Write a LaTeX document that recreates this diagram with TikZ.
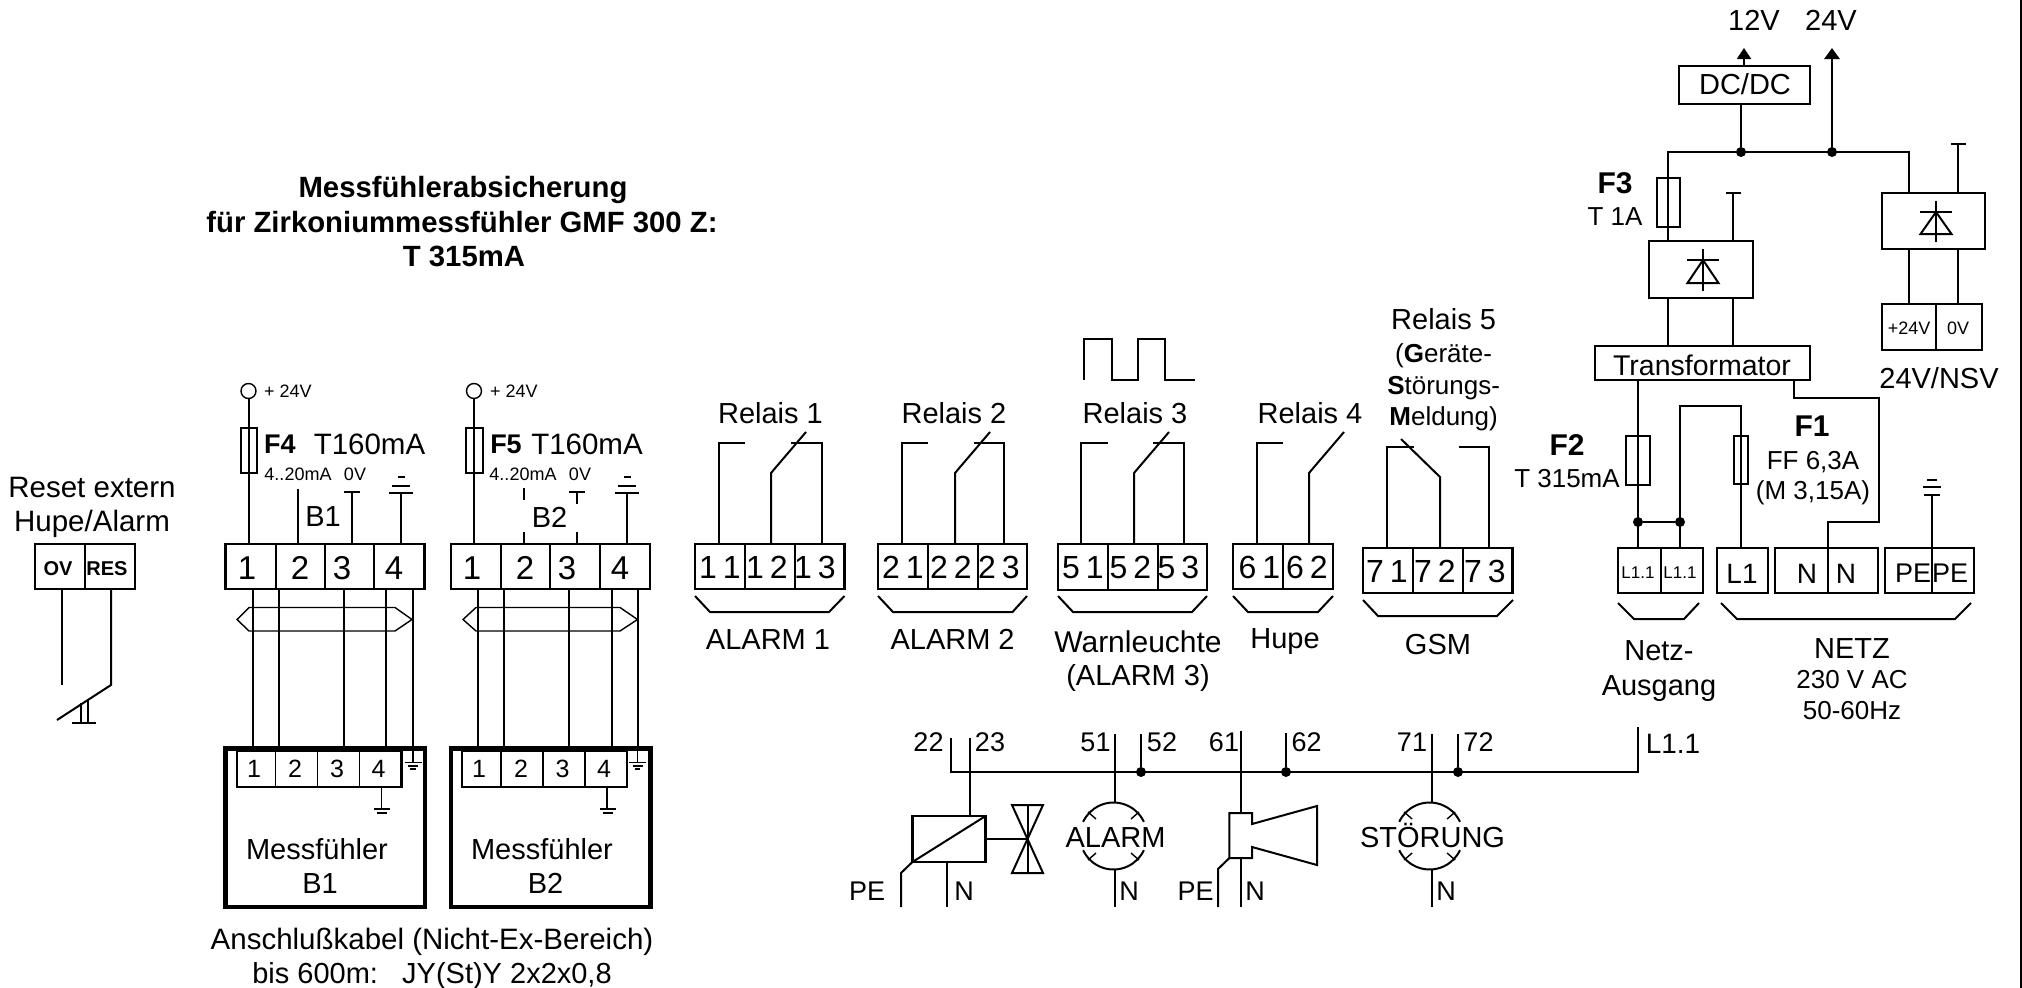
\documentclass[tikz,border=0pt]{standalone}
\usepackage{fontspec}
\setmainfont{Liberation Sans}
\usetikzlibrary{arrows.meta}
\newcommand\fs[1]{\fontsize{#1}{#1}\selectfont}
\newcount\lblc
\newcommand\T[4]{\global\advance\lblc by 1 \node[lab,font=\fs{#3},text height={0.72*#3},text depth=0pt] (lbl\the\lblc) at (#1,#2) {#4};}
\newcommand\Bx[6]{\node[#6,minimum width={#4-#2},minimum height={#5-#3}] (#1) at ({(#2+#4)/2},{(#3+#5)/2}) {};}
\newcommand\Dv[2]{\draw[divider] (#2,0 |- #1.north) -- (#2,0 |- #1.south);}
\newcommand\dd[2]{#1\kern6pt #2}
\newcommand\Gnd[4]{\draw[wire] (#1-#3,#2) -- (#1+#3,#2); \draw[wire] (#1-#3*.75,#2-7) -- (#1+#3*.75,#2-7); \draw[wire] (#1-#4,#2-16) -- (#1+#4,#2-16);}
\newcommand\SmallGnd[2]{\draw[thinw] (#1-8.5,#2) -- (#1+8.5,#2); \draw[thinw] (#1-5,#2+3.5) -- (#1+5,#2+3.5); \draw[thinw] (#1-2.7,#2+6.5) -- (#1+2.7,#2+6.5);}
\newcommand\Lamp[1]{%
 \draw[wire] (#1+30.36,821.84) arc[start angle=-25,end angle=-155,radius=33.5];
 \draw[wire] (#1-30.36,850.16) arc[start angle=155,end angle=25,radius=33.5];
 \draw[thinw] (#1-25.5,812) -- (#1-17.5,819); \draw[thinw] (#1+25.5,812) -- (#1+17.5,819);
 \draw[thinw] (#1-25.5,860) -- (#1-17.5,853); \draw[thinw] (#1+25.5,860) -- (#1+17.5,853);}
\newcommand\Diode[5]{% x bar top base bottom
 \draw[wire] (#1,#3) -- (#1,#5);
 \draw[wire] (#1-16,#2) -- (#1+16,#2);
 \draw[wire] (#1,#2) -- (#1-15.5,#4) -- (#1+15.5,#4) -- cycle;}
\tikzset{
  lab/.style={inner sep=0pt,outer sep=0pt,anchor=center,align=center},
  wire/.style={line width=2pt},
  thinw/.style={line width=1.4pt},
  divider/.style={line width=1.2pt},
  heavy/.style={line width=2.8pt},
  blockbox/.style={draw,line width=2.6pt,inner sep=0pt,outer sep=0pt},
  plainbox/.style={draw,line width=2.2pt,inner sep=0pt,outer sep=0pt},
  sensorbox/.style={draw,line width=4.5pt,inner sep=0pt,outer sep=0pt},
  fusebox/.style={draw,line width=1.6pt,inner sep=0pt,outer sep=0pt},
  boldfuse/.style={draw,line width=2.6pt,inner sep=0pt,outer sep=0pt},
  dotj/.style={circle,fill=black,inner sep=0pt,minimum size=10pt,outer sep=0pt},
  power/.style={circle,draw,line width=1.4pt,inner sep=0pt,minimum size=15pt,outer sep=0pt},
}
\begin{document}
\begin{tikzpicture}[x=1pt,y=-1pt]
\useasboundingbox (0,0) rectangle (2022,988);
\draw[line width=2pt] (2021,0) -- (2021,988);

% ---------- title
\T{463}{187}{29.3}{\textbf{Messfühlerabsicherung}}
\T{462}{222}{29.3}{\textbf{für Zirkoniummessfühler GMF 300 Z:}}
\T{464}{256}{29.3}{\textbf{T 315mA}}

% ---------- reset
\T{92}{487}{29.5}{Reset extern}
\T{92}{521}{29.5}{Hupe/Alarm}
\Bx{rs}{35}{544}{135}{589}{blockbox}
\Dv{rs}{85}
\T{58}{568}{20}{\textbf{OV}}
\T{107}{568}{20}{\textbf{RES}}
\draw[wire] (62,0 |- rs.south) -- (62,685);
\draw[wire] (111,0 |- rs.south) -- (111,685) -- (57,720);
\draw[thinw] (81,703) -- (81,722);
\draw[thinw] (88,699) -- (88,722);
\draw[wire] (72,723) -- (96,723);

% ---------- sensor 1
\Bx{tb1}{225.5}{544}{424.5}{589}{blockbox}
\Dv{tb1}{276}\Dv{tb1}{325}\Dv{tb1}{374}
\T{247}{568}{33}{1}\T{300}{568}{33}{2}\T{342}{568}{33}{3}\T{394}{568}{33}{4}
\node[power] (p1) at (248.5,391) {};
\T{288}{391}{18}{+ 24V}
\Bx{f4}{241}{428}{257}{473}{boldfuse}
\draw[wire] (p1.south) -- (248.5,0 |- tb1.north);
\T{280}{444}{27}{\textbf{F4}}
\T{369.5}{444}{29.5}{T160mA}
\T{298}{474}{18}{4..20mA}
\T{355}{474}{18}{0V}
\T{323}{516}{29}{B1}
\draw[wire] (298,489) -- (298,0 |- tb1.north);
\draw[wire] (352,492) -- (352,0 |- tb1.north);
\draw[wire] (344,492) -- (360,492);
\draw[wire] (401,493) -- (401,0 |- tb1.north);
\Gnd{401}{493}{11.7}{3.5}
\Bx{mb1}{225.5}{748.5}{425}{907}{sensorbox}
\Bx{ib1}{237}{750.5}{401.5}{787}{plainbox}
\Dv{ib1}{275.5}\Dv{ib1}{317.5}\Dv{ib1}{359.5}
\T{254}{768.5}{25}{1}\T{295}{768.5}{25}{2}\T{337}{768.5}{25}{3}\T{378.5}{768.5}{25}{4}
\foreach \xw in {253,279,344,386,413}{\draw[wire] (\xw,0 |- tb1.south) -- (\xw,0 |- mb1.north);}
\draw[thinw] (237,619.5) -- (249,607.5) -- (395,607.5) -- (412,619.5) -- (395,631) -- (249,631) -- cycle;
\draw[thinw] (413,748.5) -- (413,762.5);
\SmallGnd{413}{762.5}
\draw[thinw] (381.5,0 |- ib1.south) -- (381.5,809);
\draw[thinw] (374,809) -- (390,809);\draw[thinw] (377,813) -- (387,813);
\T{317}{849}{29}{Messfühler}
\T{320}{883}{29}{B1}

% ---------- sensor 2
\Bx{tb2}{451}{544}{650}{589}{blockbox}
\Dv{tb2}{501}\Dv{tb2}{550}\Dv{tb2}{600}
\T{472}{568}{33}{1}\T{525}{568}{33}{2}\T{567}{568}{33}{3}\T{620}{568}{33}{4}
\node[power] (p2) at (474,391) {};
\T{514}{391}{18}{+ 24V}
\Bx{f5}{466}{428}{483}{473}{boldfuse}
\draw[wire] (p2.south) -- (474,0 |- tb2.north);
\T{506}{444}{27}{\textbf{F5}}
\T{587}{444}{29.5}{T160mA}
\T{523}{474}{18}{4..20mA}
\T{580}{474}{18}{0V}
\T{549.5}{517}{29}{B2}
\draw[thinw] (524,488) -- (524,500);
\draw[thinw] (524,532) -- (524,0 |- tb2.north);
\draw[wire] (577,492) -- (577,504);
\draw[thinw] (577,532) -- (577,0 |- tb2.north);
\draw[wire] (569,492) -- (585,492);
\draw[wire] (627,493) -- (627,0 |- tb2.north);
\Gnd{627}{493}{11.7}{3.5}
\Bx{mb2}{451}{748.5}{650.5}{907}{sensorbox}
\Bx{ib2}{462}{750.5}{627}{787}{plainbox}
\Dv{ib2}{501}\Dv{ib2}{543}\Dv{ib2}{585}
\T{479}{768.5}{25}{1}\T{521}{768.5}{25}{2}\T{562.5}{768.5}{25}{3}\T{604}{768.5}{25}{4}
\foreach \xw in {478,504,569,611.5,637.5}{\draw[wire] (\xw,0 |- tb2.south) -- (\xw,0 |- mb2.north);}
\draw[thinw] (463,619.5) -- (476,607.5) -- (620,607.5) -- (637.5,619.5) -- (620,631) -- (476,631) -- cycle;
\draw[thinw] (637.5,748.5) -- (637.5,762.5);
\SmallGnd{637.5}{762.5}
\draw[thinw] (607,0 |- ib2.south) -- (607,809);
\draw[thinw] (599.5,809) -- (615.5,809);\draw[thinw] (602.5,813) -- (612.5,813);
\T{542}{849}{29}{Messfühler}
\T{545.5}{883}{29}{B2}
\T{432}{939}{29.5}{Anschlußkabel (Nicht-Ex-Bereich)}
\T{432}{973}{29}{bis 600m:\ \ \ JY(St)Y 2x2x0,8}

% ---------- relay 1
\T{770.5}{413}{29}{Relais 1}
\Bx{r1}{695}{544}{844.5}{589}{blockbox}
\Dv{r1}{745}\Dv{r1}{795}
\T{720}{567}{32}{\dd11}\T{767}{567}{32}{\dd12}\T{815}{567}{32}{\dd13}
\draw[wire] (718.5,0 |- r1.north) |- (745,443);
\draw[wire] (771,0 |- r1.north) -- (771,473) -- (806,432);
\draw[wire] (821.5,0 |- r1.north) |- (791,443);
\draw[wire] (695,596) -- (710,612) -- (829,612) -- (844.5,596);
\T{768}{639}{29}{ALARM 1}

% ---------- relay 2
\T{954}{413}{29}{Relais 2}
\Bx{r2}{878}{544}{1027}{589}{blockbox}
\Dv{r2}{928}\Dv{r2}{978}
\T{903}{567}{32}{\dd21}\T{951}{567}{32}{\dd22}\T{999}{567}{32}{\dd23}
\draw[wire] (901.6,0 |- r2.north) |- (928,443);
\draw[wire] (955,0 |- r2.north) -- (955,473) -- (990,432);
\draw[wire] (1004,0 |- r2.north) |- (973.5,443);
\draw[wire] (878,596) -- (893,612) -- (1012.5,612) -- (1027,596);
\T{952.6}{639}{29}{ALARM 2}

% ---------- relay 3
\draw[wire] (1084,380) -- (1084,339) -- (1112,339) -- (1112,380) -- (1138,380) -- (1138,339) -- (1165,339) -- (1165,380) -- (1194.5,380);
\T{1135}{413}{29}{Relais 3}
\Bx{r3}{1058}{544}{1207}{590}{blockbox}
\Dv{r3}{1108}\Dv{r3}{1158}
\T{1083}{567}{32}{\dd51}\T{1130.5}{567}{32}{\dd52}\T{1178.5}{567}{32}{\dd53}
\draw[wire] (1080.5,0 |- r3.north) |- (1108,443);
\draw[wire] (1134,0 |- r3.north) -- (1134,473) -- (1169,432);
\draw[wire] (1183.5,0 |- r3.north) |- (1153,443);
\draw[wire] (1058,596) -- (1073,612) -- (1192,612) -- (1207,596);
\T{1138}{642}{30}{Warnleuchte}
\T{1138}{675}{29}{(ALARM 3)}

% ---------- relay 4
\T{1310}{413}{29}{Relais 4}
\Bx{r4}{1233}{544}{1333}{589}{blockbox}
\Dv{r4}{1283}
\T{1259.5}{567}{32}{\dd61}\T{1307}{567}{32}{\dd62}
\draw[wire] (1256.5,0 |- r4.north) |- (1283,443);
\draw[wire] (1309,0 |- r4.north) -- (1309,473) -- (1344,432);
\draw[wire] (1233,596) -- (1248,612) -- (1318,612) -- (1333,596);
\T{1285}{638}{29}{Hupe}

% ---------- relay 5
\T{1443.6}{319}{29}{Relais 5}
\T{1443.6}{353}{26}{(\textbf{G}eräte-}
\T{1443.6}{385}{26}{\textbf{S}törungs-}
\T{1443.6}{416}{26}{\textbf{M}eldung)}
\Bx{r5}{1363}{548}{1512.7}{593}{blockbox}
\Dv{r5}{1413}\Dv{r5}{1463}
\T{1387}{571}{32}{\dd71}\T{1435}{571}{32}{\dd72}\T{1485}{571}{32}{\dd73}
\draw[wire] (1386.5,0 |- r5.north) |- (1413.5,447);
\draw[wire] (1440,0 |- r5.north) -- (1440,477) -- (1401,439);
\draw[wire] (1489,0 |- r5.north) |- (1459,447);
\draw[wire] (1363,600) -- (1378,616) -- (1497,616) -- (1513,600);
\T{1438}{644}{29}{GSM}

% ---------- power part top
\T{1754}{20}{29}{12V}
\T{1831}{20}{29}{24V}
\Bx{dc}{1679}{66}{1810}{104}{plainbox}
\T{1745}{84}{29}{DC/DC}
\draw[wire,-{Triangle[length=11pt,width=14pt]}] (1744,0 |- dc.north) -- (1744,48);
\coordinate (busL) at (1668,152);
\node[dotj] (j1) at (1741,152) {};
\node[dotj] (j2) at (1832,152) {};
\draw[wire] (1741,0 |- dc.south) -- (j1);
\draw[heavy,-{Triangle[length=11pt,width=15pt]}] (j2) -- (1832,48);
\Bx{rc1}{1649}{241}{1753}{298}{plainbox}
\Bx{rc2}{1882}{193}{1985}{249}{plainbox}
\draw[wire] (1668,0 |- rc1.north) -- (busL) -- (1909,152) -- (1909,0 |- rc2.north);
\Bx{f3}{1657}{178}{1680}{227}{fusebox}
\T{1615}{183}{30}{\textbf{F3}}
\T{1615}{216}{26}{T 1A}
\Diode{1703}{260}{249}{283}{291}
\Diode{1936}{212}{201}{234}{242}
\draw[wire] (1733,0 |- rc1.north) -- (1733,193);
\draw[wire] (1726,193) -- (1741,193);
\draw[wire] (1958,0 |- rc2.north) -- (1958,144);
\draw[wire] (1951,144) -- (1966,144);
\Bx{tr}{1595}{346}{1810}{380}{plainbox}
\T{1702}{365}{28.5}{Transformator}
\draw[wire] (1668,0 |- rc1.south) -- (1668,0 |- tr.north);
\draw[wire] (1733,0 |- rc1.south) -- (1733,0 |- tr.north);
\Bx{nsv}{1882}{304}{1982}{350}{blockbox}
\Dv{nsv}{1936}
\T{1909}{328}{18}{+24V}
\T{1958}{328}{18}{0V}
\draw[wire] (1909,0 |- rc2.south) -- (1909,0 |- nsv.north);
\draw[wire] (1958,0 |- rc2.south) -- (1958,0 |- nsv.north);
\T{1939}{378}{29}{24V/NSV}

% ---------- mains
\Bx{la}{1618}{548}{1703}{593}{blockbox}
\Dv{la}{1661}
\T{1638}{572}{17}{L1.1}
\T{1680}{572}{17}{L1.1}
\Bx{lb}{1717}{548}{1768}{593}{blockbox}
\T{1742}{573}{28}{L1}
\Bx{lc}{1775}{548}{1878}{593}{blockbox}
\Dv{lc}{1828}
\T{1807}{573}{28}{N}
\T{1846}{573}{28}{N}
\Bx{ld}{1885}{548}{1974}{593}{blockbox}
\Dv{ld}{1932}
\T{1913}{573}{27}{PE}
\T{1950}{573}{27}{PE}
\Bx{f2}{1626}{436}{1650}{485}{fusebox}
\Bx{f1}{1734}{436}{1748}{484}{fusebox}
\node[dotj] (j3) at (1638,522) {};
\node[dotj] (j4) at (1680,522) {};
\draw[wire] (1638,0 |- tr.south) -- (1638,0 |- la.north);
\draw[wire] (j3) -- (j4);
\draw[wire] (1680,0 |- la.north) -- (1680,406) -- (1741,406) -- (1741,0 |- lb.north);
\draw[wire] (1794,0 |- tr.south) -- (1794,398) -- (1879,398) -- (1879,522) -- (1828,522) -- (1828,0 |- lc.north);
\T{1567}{445}{30}{\textbf{F2}}
\T{1567}{478}{26}{T 315mA}
\T{1812}{426}{30}{\textbf{F1}}
\T{1813}{460}{26}{FF 6,3A}
\T{1813}{490}{26}{(M 3,15A)}
\draw[wire] (1932,0 |- ld.north) -- (1932,496);
\draw[wire] (1924,495) -- (1940,495);
\draw[wire] (1923,487) -- (1941,487);
\draw[wire] (1927,480) -- (1937,480);
\draw[wire] (1618,603) -- (1634,619) -- (1684,619) -- (1699,603);
\draw[wire] (1721,603) -- (1737,619) -- (1955,619) -- (1971,603);
\T{1659}{650}{29}{Netz-}
\T{1659}{685}{29}{Ausgang}
\T{1852}{648}{29}{NETZ}
\T{1852}{679}{26}{230 V AC}
\T{1852}{710}{26}{50-60Hz}

% ---------- load bus
\coordinate (busA) at (951,772);
\node[dotj] (d52) at (1141,772) {};
\node[dotj] (d62) at (1286,772) {};
\node[dotj] (d72) at (1458,772) {};
\draw[wire] (951,738) -- (busA) -- (1638,772) -- (1638,727);
\T{1673}{743}{28}{L1.1}
\T{928.5}{742}{27}{22}\T{990}{742}{27}{23}
\T{1095.5}{742}{27}{51}\T{1162}{742}{27}{52}
\T{1224}{742}{27}{61}\T{1306.6}{742}{27}{62}
\T{1412}{742}{27}{71}\T{1478.5}{742}{27}{72}
\draw[wire] (d52) -- (1141,734);
\draw[wire] (d62) -- (1286,733);
\draw[wire] (d72) -- (1458,734);

% solenoid valve
\Bx{sol}{912.4}{816}{985.6}{862}{blockbox}
\draw[wire] (970,738) -- (970,0 |- sol.north);
\draw[wire] (sol.south west) -- (sol.north east);
\draw[wire] (sol.south west) -- (901,873) -- (901,907);
\draw[wire] (947,0 |- sol.south) -- (947,907);
\T{867}{891}{27}{PE}
\T{964}{891}{27}{N}
\draw[heavy] (sol.east) -- (1027.6,839);
\draw[wire] (1012,805) -- (1043,805) -- (1012,873) -- (1043,873) -- cycle;
\draw[wire] (1027.6,805) -- (1027.6,873);

% lamp alarm
\draw[wire] (1115,734) -- (1115,802);
\Lamp{1113.5}
\T{1115.5}{837}{29}{ALARM}
\draw[wire] (1115,869) -- (1115,907);
\T{1129}{891}{27}{N}

% horn
\draw[wire] (1240.5,731) -- (1240.5,813);
\draw[wire] (1252,824) -- (1252,813) -- (1229.4,813) -- (1229.4,858) -- (1252,858) -- (1252,847) -- (1317,865) -- (1317,806) -- cycle;
\draw[wire] (1240.5,858) -- (1240.5,907);
\draw[wire] (1229.4,858) -- (1218,869) -- (1218,907);
\T{1195.5}{891}{27}{PE}
\T{1255}{891}{27}{N}

% lamp stoerung
\draw[wire] (1431.6,734) -- (1431.6,802);
\Lamp{1429.6}
\T{1432.5}{837}{29}{STÖRUNG}
\draw[wire] (1431.6,869) -- (1431.6,907);
\T{1446}{891}{27}{N}
\end{tikzpicture}
\end{document}
